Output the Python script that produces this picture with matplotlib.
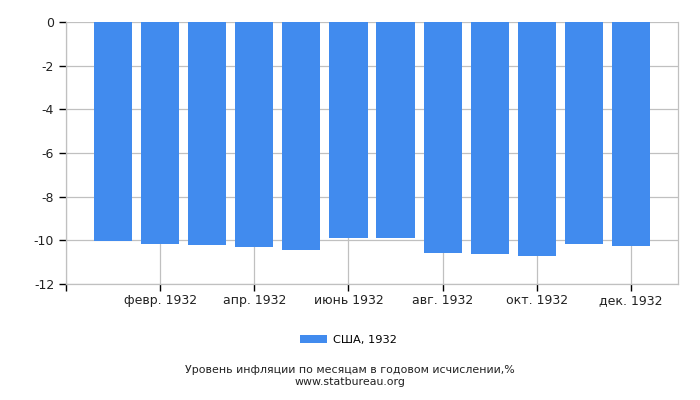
import matplotlib
import matplotlib.pyplot as plt
import numpy as np

matplotlib.use("Agg")

# Monthly inflation, USA 1932 (% year over year)
MONTHS = np.arange(1, 13)
VALUES = [-10.03, -10.15, -10.21, -10.31, -10.44, -9.89,
          -9.89, -10.57, -10.63, -10.72, -10.15, -10.26]
TICK_POS = [0, 2, 4, 6, 8, 10, 12]
TICK_LABELS = ["", "февр. 1932", "апр. 1932", "июнь 1932",
               "авг. 1932", "окт. 1932", "дек. 1932"]
SERIES_LABEL = "США, 1932"
TITLE = "Уровень инфляции по месяцам в годовом исчислении,%"
SOURCE = "www.statbureau.org"

BAR_COLOR = "#418bee"
GRID_COLOR = "#c0c0c0"

fig = plt.figure(figsize=(7, 4), dpi=100)
ax = fig.add_axes([66 / 700, 1 - 284 / 400, 612 / 700, 262 / 400])

ax.bar(MONTHS, VALUES, width=0.81, color=BAR_COLOR, zorder=2, label=SERIES_LABEL)

ax.set_xlim(0, 13)
ax.set_ylim(-12, 0)
ax.set_yticks(np.arange(-12, 1, 2))
ax.set_yticklabels([f"{v:g}" for v in np.arange(-12, 1, 2)])
ax.set_xticks(TICK_POS)
ax.set_xticklabels(TICK_LABELS)

ax.grid(True, color=GRID_COLOR, linewidth=0.9, zorder=0)
ax.spines["top"].set_visible(False)
for name in ["left", "right", "bottom"]:
    ax.spines[name].set_color(GRID_COLOR)
    ax.spines[name].set_linewidth(0.9)

ax.tick_params(axis="both", colors="black", labelsize=9, length=5, width=1)
ax.tick_params(axis="x", pad=2)
for lbl in ax.get_xticklabels() + ax.get_yticklabels():
    lbl.set_color("#222222")

fig.legend(loc="center", bbox_to_anchor=(348 / 700, 1 - 340 / 400), frameon=False,
           fontsize=8.2, handlelength=2.4, handleheight=0.7, handletextpad=0.5)

fig.text(0.5, 1 - 370 / 400, TITLE, ha="center", va="center", fontsize=7.9, color="#222222")
fig.text(0.5, 1 - 382 / 400, SOURCE, ha="center", va="center", fontsize=7.9, color="#222222")

fig.savefig("out.png", dpi=100)
